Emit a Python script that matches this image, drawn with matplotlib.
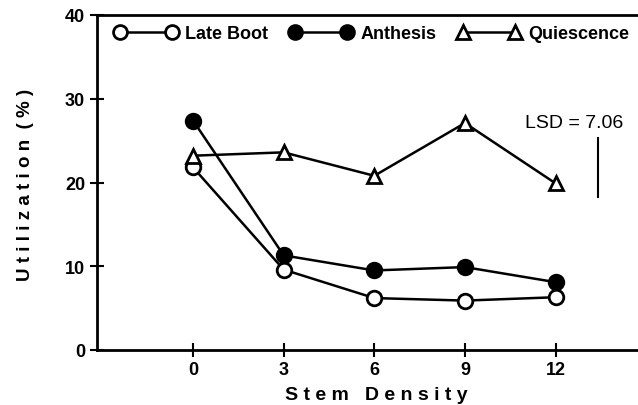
import matplotlib
matplotlib.use("Agg")
import matplotlib.pyplot as plt

density = [0, 3, 6, 9, 12]
late_boot = [21.8, 9.6, 6.2, 5.9, 6.3]
anthesis = [27.4, 11.3, 9.5, 9.9, 8.1]
quiescence = [23.2, 23.6, 20.8, 27.1, 19.9]
lsd_value = 7.06
lsd_center = 21.8
yticks = [0, 10, 20, 30, 40]

plt.rcParams['font.family'] = ['Liberation Sans', 'DejaVu Sans']
plt.rcParams['font.weight'] = 'bold'

fig = plt.figure(figsize=(6.38, 4.06), dpi=100)
ax = fig.add_axes([97/638, 1-351/406, 1-97/638, (351-16)/406])

ms = 10.5
ax.plot(density, late_boot, color='black', lw=1.8, marker='o', ms=ms,
        mfc='white', mec='black', mew=2, label='Late Boot')
ax.plot(density, anthesis, color='black', lw=1.8, marker='o', ms=ms,
        mfc='black', mec='black', mew=2, label='Anthesis')
ax.plot(density, quiescence, color='black', lw=1.8, marker='^', ms=ms,
        mfc='white', mec='black', mew=2, label='Quiescence')

# LSD bar
ax.plot([13.4, 13.4], [lsd_center - lsd_value/2, lsd_center + lsd_value/2],
        color='black', lw=1.5)
ax.text(12.6, 27.2, f'LSD = {lsd_value:.2f}', ha='center', va='center',
        fontsize=14, fontweight='normal')

ax.set_xlim(-3.18, 14.73)
ax.set_ylim(0, 40)
ax.set_xticks(density)
ax.set_yticks(yticks)
ax.tick_params(direction='inout', length=10, width=1.5, labelsize=13)
ax.tick_params(axis='x', pad=3)
for s in ['left', 'bottom', 'top']:
    ax.spines[s].set_linewidth(2)
ax.spines['right'].set_visible(False)

fig.text(376/638, 1-396/406, 'S t e m   D e n s i t y', fontsize=14,
         fontweight='bold', ha='center', va='center')
fig.text(25/638, 1-185/406, 'U t i l i z a t i o n  ( % )', fontsize=13.5,
         fontweight='bold', ha='center', va='center', rotation=90)

leg = ax.legend(loc='upper left', bbox_to_anchor=(0.013, 1.003), ncol=3, frameon=False,
                numpoints=2, handlelength=3.45, handletextpad=0.45, columnspacing=1.2,
                fontsize=13, borderaxespad=0.2, markerscale=0.95)

fig.savefig('out.png', dpi=100)
